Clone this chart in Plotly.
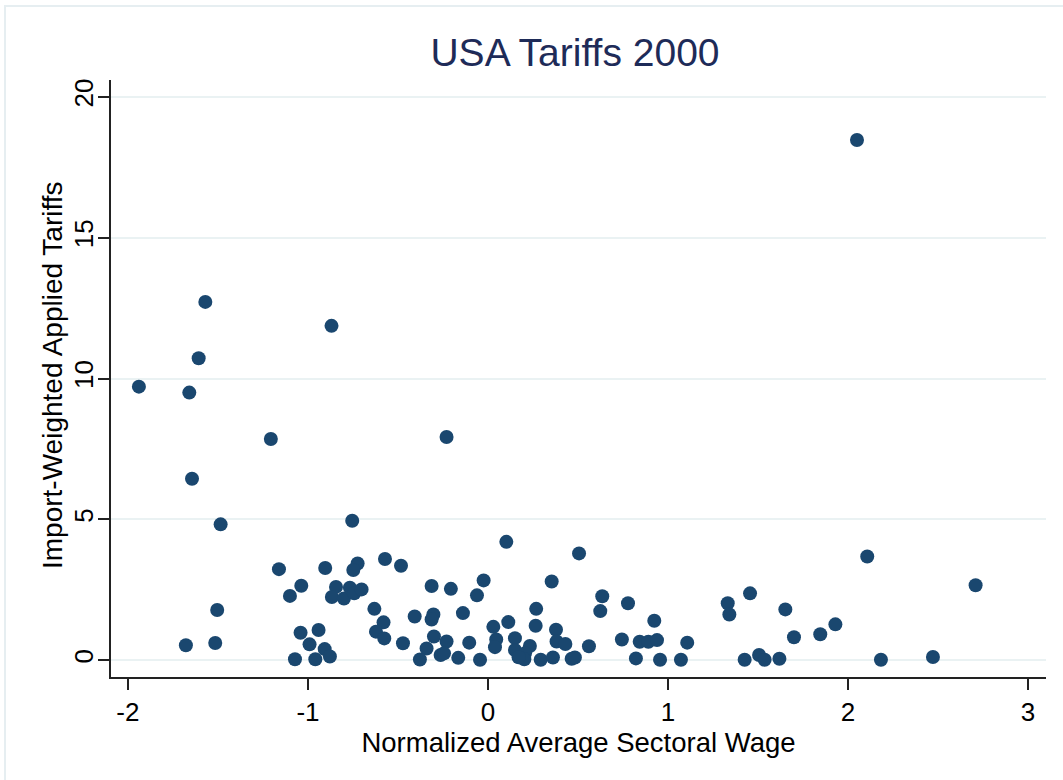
import plotly.graph_objects as go

# Normalized average sectoral wage (x) and import-weighted applied tariffs (y)
wage = [
    2.050, -1.939, -1.570, -1.607, -1.659, -1.644, -0.869, -1.206, -0.230, -1.485,
    -0.754, 0.102, 0.506, 2.107, 2.709,
    -1.161, -0.904, -0.724, -0.748, -0.572, -0.483, -1.037, -1.100, -0.844, -0.867,
    -0.800, -0.767, -0.743, -0.702, -0.631, -1.504, -0.580, -0.622, -0.576, -0.407,
    -0.472, -0.341, -0.378, -1.678, -1.515, -1.041, -0.941, -0.991, -0.907, -0.878,
    -1.072, -0.959,
    -0.313, -0.206, -0.024, -0.061, 0.354, 0.635, 0.624, 0.778, 1.332, 1.341,
    -0.303, -0.313, -0.139, 0.268, 0.924, 0.030, 0.113, 0.265, 0.378, -0.300,
    -0.230, -0.104, 0.046, 0.039, 0.150, 0.150, 0.233, 0.206, 0.202, 0.381,
    0.430, 0.561, 0.744, 0.843, 0.891, 0.939, 1.107, -0.263, -0.244, -0.165,
    -0.044, 0.293, 0.361, 0.465, 0.483, 0.822, 0.956, 1.072, 0.170,
    1.456, 1.652, 1.700, 1.846, 1.930, 1.426, 1.506, 1.537, 1.619, 2.183, 2.472,
]
tariff = [
    18.47, 9.71, 12.72, 10.72, 9.50, 6.44, 11.87, 7.85, 7.92, 4.82,
    4.95, 4.20, 3.79, 3.68, 2.66,
    3.23, 3.27, 3.43, 3.20, 3.59, 3.35, 2.64, 2.28, 2.60, 2.24,
    2.19, 2.57, 2.37, 2.51, 1.82, 1.78, 1.34, 1.01, 0.77, 1.55,
    0.60, 0.41, 0.02, 0.53, 0.61, 0.97, 1.07, 0.56, 0.39, 0.13,
    0.03, 0.03,
    2.63, 2.53, 2.83, 2.30, 2.79, 2.27, 1.74, 2.02, 2.02, 1.62,
    1.62, 1.44, 1.67, 1.82, 1.40, 1.18, 1.35, 1.22, 1.08, 0.84,
    0.66, 0.62, 0.73, 0.46, 0.78, 0.36, 0.50, 0.24, 0.03, 0.66,
    0.57, 0.49, 0.73, 0.65, 0.65, 0.71, 0.62, 0.18, 0.24, 0.08,
    0.01, 0.01, 0.09, 0.05, 0.09, 0.06, 0.01, 0.01, 0.10,
    2.37, 1.80, 0.81, 0.92, 1.27, 0.01, 0.18, 0.01, 0.05, 0.01, 0.11,
]

x_ticks = [-2, -1, 0, 1, 2, 3]
y_ticks = [0, 5, 10, 15, 20]

FONT = "Liberation Sans, Arial, sans-serif"

fig = go.Figure()
fig.add_trace(go.Scatter(
    x=wage, y=tariff, mode="markers",
    marker=dict(size=14, color="#1a476f", line=dict(width=0)),
    showlegend=False, hoverinfo="x+y",
))

W, H = 1063, 780
L, R, T, B = 111, 17, 80, 103
pw, ph = W - L - R, H - T - B

fig.update_layout(
    width=W, height=H,
    margin=dict(l=L, r=R, t=T, b=B, pad=0, autoexpand=False),
    paper_bgcolor="white", plot_bgcolor="white",
    font=dict(family=FONT, color="black"),
    title=dict(text="USA Tariffs 2000", x=575 / W, xanchor="center",
               y=1 - 52.5 / H, yanchor="middle",
               font=dict(size=39, color="#1e2b58", family=FONT)),
    xaxis=dict(
        range=[-2.094, 3.1], tickvals=x_ticks, ticktext=[str(v) for v in x_ticks],
        automargin=False,
        showgrid=False, zeroline=False,
        showline=True, linecolor="#222222", linewidth=1.5,
        ticks="outside", ticklen=11, tickwidth=1.5, tickcolor="#222222",
        tickfont=dict(size=26, family=FONT, color="black"),
        title=dict(text="Normalized Average Sectoral Wage", standoff=0,
                   font=dict(size=27.5, family=FONT, color="black")),
    ),
    yaxis=dict(
        range=[-0.60, 20.6], tickvals=y_ticks, ticktext=[str(v) for v in y_ticks],
        tickangle=-90, automargin=False, ticklabelstandoff=-5,
        showgrid=True, gridcolor="#eaf2f3", gridwidth=2,
        zeroline=False,
        showline=True, linecolor="#222222", linewidth=1.5,
        ticks="outside", ticklen=11, tickwidth=1.5, tickcolor="#222222",
        tickfont=dict(size=26, family=FONT, color="black"),
    ),
    annotations=[dict(
        text="Import-Weighted Applied Tariffs", textangle=-90, showarrow=False,
        xref="paper", yref="paper",
        x=(52 - L) / pw, y=(H - B - 375) / ph, xanchor="center", yanchor="middle",
        font=dict(size=28, family=FONT, color="black"),
    )],
    shapes=[dict(
        type="rect", xref="paper", yref="paper", layer="below",
        x0=(5 - L) / pw, x1=(W + 20 - L) / pw,
        y0=(H - B - (H + 20)) / ph, y1=(H - B - 6) / ph,
        line=dict(color="#e6eef1", width=2), fillcolor="rgba(0,0,0,0)",
    )],
)

fig.write_html("out.html", config={"displayModeBar": False},
               post_script="document.body.style.margin='0';document.body.style.overflow='hidden';")
